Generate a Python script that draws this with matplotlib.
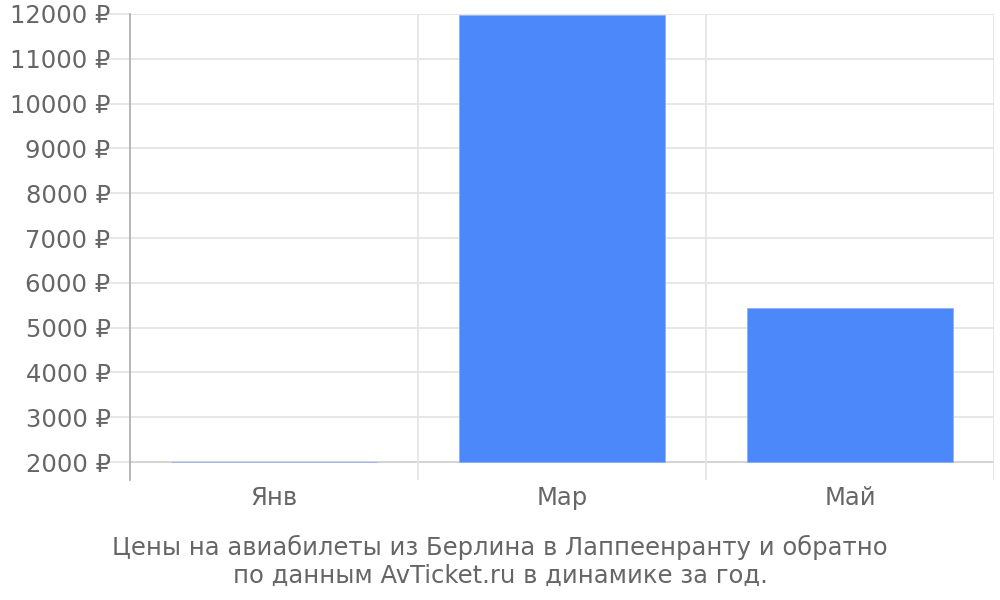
import numpy as np
import matplotlib.pyplot as plt

# данные: месяцы и цены (руб.)
months = ["Янв", "Мар", "Май"]
prices = [2010, 11980, 5440]
y_ticks = [2000, 3000, 4000, 5000, 6000, 7000, 8000, 9000, 10000, 11000, 12000]
caption = "Цены на авиабилеты из Берлина в Лаппеенранту и обратно\nпо данным AvTicket.ru в динамике за год."

base = 2000
grey_txt = "#666666"

fig = plt.figure(figsize=(10, 6), dpi=100)
ax = fig.add_axes([0.13, 0.2, 0.864, 0.7767])

x = np.arange(len(months))
ax.bar(x, np.array(prices) - base, bottom=base, width=0.715, color="#4d88fb",
       edgecolor="#8aaef5", linewidth=0.5, zorder=3)

ax.set_xlim(-0.5, len(months) - 0.5)
ax.set_ylim(1600, 12000)

# сетка
for yv in y_ticks:
    ax.axhline(yv, color="#cccccc" if yv == base else "#e3e3e3", lw=1.2, zorder=1)
for xv in np.arange(-0.5, len(months), 1.0)[1:]:
    ax.axvline(xv, color="#e3e3e3", lw=1.2, zorder=1)

ax.set_yticks(y_ticks)
ax.set_yticklabels([f"{v} ₽" for v in y_ticks])
ax.set_xticks(x)
ax.set_xticklabels(months)
ax.tick_params(axis="y", length=16, color="#e3e3e3", width=1.2, pad=-2,
               labelsize=17.5, labelcolor=grey_txt)
ax.tick_params(axis="x", length=0, pad=4, labelsize=17.5, labelcolor=grey_txt)

for s in ["top", "right", "bottom"]:
    ax.spines[s].set_visible(False)
ax.spines["left"].set_color("#aaaaaa")
ax.spines["left"].set_linewidth(1.2)

fig.text(0.5, 0.02, caption, ha="center", va="bottom", fontsize=17.5,
         color=grey_txt, linespacing=1.2)

fig.savefig("out.png")
